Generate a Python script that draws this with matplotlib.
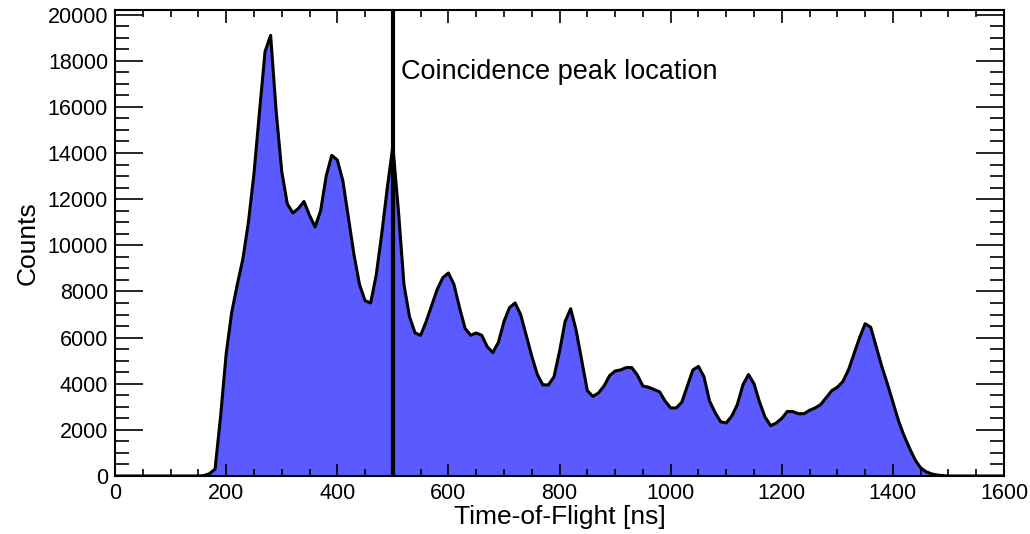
import matplotlib
matplotlib.use('Agg')
from matplotlib import pyplot as plt
from matplotlib.ticker import MultipleLocator
import numpy as np

plt.rcParams['font.family'] = ['Liberation Sans', 'DejaVu Sans']

# time-of-flight bins [ns] and counts, every 10 ns
tof = [0, 150, 160, 170, 180, 190, 200, 210, 220, 230, 240, 250, 260, 270, 280, 290,
       300, 310, 320, 330, 340, 350, 360, 370, 380, 390, 400, 410, 420, 430, 440,
       450, 460, 470, 480, 490, 500, 510, 520, 530, 540, 550, 560, 570, 580, 590,
       600, 610, 620, 630, 640, 650, 660, 670, 680, 690, 700, 710, 720, 730, 740,
       750, 760, 770, 780, 790, 800, 810, 820, 830, 840, 850, 860, 870, 880, 890,
       900, 910, 920, 930, 940, 950, 960, 970, 980, 990, 1000, 1010, 1020, 1030,
       1040, 1050, 1060, 1070, 1080, 1090, 1100, 1110, 1120, 1130, 1140, 1150,
       1160, 1170, 1180, 1190, 1200, 1210, 1220, 1230, 1240, 1250, 1260, 1270,
       1280, 1290, 1300, 1310, 1320, 1330, 1340, 1350, 1360, 1370, 1380, 1390,
       1400, 1410, 1420, 1430, 1440, 1450, 1460, 1470, 1480, 1490, 1500, 1600]
counts = [0, 0, 20, 100, 300, 2600, 5300, 7100, 8300, 9400, 11000, 13100, 15800, 18400, 19100, 15800,
          13200, 11800, 11400, 11600, 11900, 11300, 10800, 11500, 13000, 13900, 13700, 12800, 11200, 9600, 8300,
          7600, 7500, 8700, 10500, 12500, 14300, 11500, 8300, 6900, 6200, 6100, 6700, 7400, 8100, 8600,
          8800, 8300, 7300, 6400, 6100, 6200, 6100, 5600, 5350, 5800, 6700, 7300, 7500, 7000, 6100,
          5200, 4400, 3950, 3950, 4300, 5400, 6700, 7250, 6300, 5000, 3700, 3450, 3600, 3900, 4350,
          4550, 4600, 4700, 4700, 4380, 3900, 3850, 3750, 3650, 3250, 2950, 2950, 3200, 3900,
          4600, 4750, 4300, 3250, 2750, 2350, 2300, 2600, 3100, 3950, 4400, 4000,
          3200, 2550, 2180, 2300, 2500, 2800, 2790, 2700, 2700, 2850, 2950, 3100,
          3400, 3700, 3850, 4100, 4600, 5300, 6000, 6600, 6450, 5600, 4750, 4000,
          3200, 2400, 1750, 1200, 700, 350, 180, 90, 40, 15, 0, 0]

peak_tof = 500
peak_label = 'Coincidence peak location'

fig = plt.figure(figsize=(10.3, 5.34), dpi=100)
ax = fig.add_axes([0.1117, 0.1086, 0.8631, 0.8727])

ax.fill_between(tof, counts, 0, color='#5a5aff', linewidth=0)
ax.plot(tof, counts, color='black', linewidth=2.2)
ax.axvline(peak_tof, color='black', linewidth=3)
ax.text(515, 17500, peak_label, fontsize=19.5, va='center', ha='left')

ax.set_xlim(0, 1600)
ax.set_ylim(0, 20200)
ax.xaxis.set_major_locator(MultipleLocator(200))
ax.xaxis.set_minor_locator(MultipleLocator(50))
ax.yaxis.set_major_locator(MultipleLocator(2000))
ax.yaxis.set_minor_locator(MultipleLocator(500))

ax.tick_params(which='both', direction='in', top=True, right=True, labelsize=15.5)
ax.tick_params(axis='x', which='major', length=9, width=1.2, pad=5)
ax.tick_params(axis='x', which='minor', length=5, width=1.2)
ax.tick_params(axis='y', which='major', length=20, width=1.2, pad=5)
ax.tick_params(axis='y', which='minor', length=10, width=1.2)
for s in ax.spines.values():
    s.set_linewidth(1.5)

ax.set_xlabel('Time-of-Flight [ns]', fontsize=19, labelpad=1)
ax.set_ylabel('Counts', fontsize=19, labelpad=6)

plt.savefig('out.png', dpi=100)
